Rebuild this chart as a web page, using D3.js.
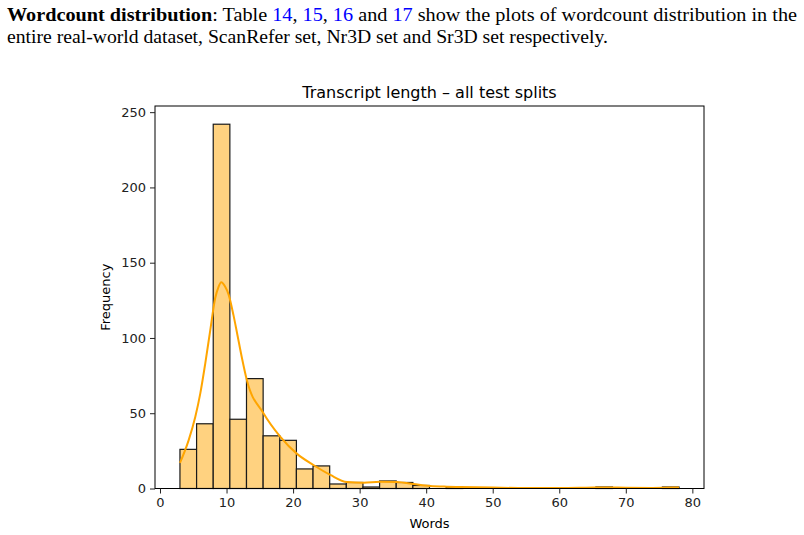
<!DOCTYPE html>
<html>
<head>
<meta charset="utf-8">
<script src="https://cdn.jsdelivr.net/npm/d3@7"></script>
<style>
  body { margin: 0; background: #fff; }
  svg { display: block; }
</style>
</head>
<body>
<script>
// histogram bins (words)
var binStart = 3;
var binWidth = 2.5;
var counts = [26, 43, 242, 46, 73, 35, 32, 13, 15, 3, 4, 1, 5, 4, 2, 0, 1, 0, 0, 0, 0, 0, 0, 0, 0, 1, 0, 0, 0, 1];

// kde line, sampled by eye
var kdeWords  = [3, 4.3, 5.3, 6.05, 6.8, 7.55, 8.3, 8.8, 9.2, 9.8, 10.3, 11.05, 11.55, 12.3, 13.05, 15.55, 18.06, 20.6, 23.06, 25.6, 28.1, 30.6, 33.1, 35.6, 38.1, 40.6, 43.1, 45.1, 50, 55, 60, 64, 67, 70, 74, 77, 78];
var kdeValues = [17, 32, 47.5, 63, 83, 105, 126.5, 134, 137, 134, 129, 115, 104, 87, 72, 50, 34.5, 23, 15.6, 9, 4.3, 3.9, 4.5, 4.3, 3, 1.7, 1.2, 1, 0.6, 0.3, 0.3, 0.5, 0.7, 0.5, 0.4, 0.6, 0.6];

var yTicks = [0, 50, 100, 150, 200, 250];
var xTicks = [0, 10, 20, 30, 40, 50, 60, 70, 80];

var W = 804, H = 535;
var svg = d3.select("body").append("svg")
    .attr("width", W)
    .attr("height", H);

// caption above the figure
var cap = svg.append("g")
    .attr("font-family", "'Liberation Serif', 'Times New Roman', serif")
    .attr("font-size", 19.5)
    .attr("fill", "#000");

var line1 = cap.append("text")
    .attr("x", 7).attr("y", 21)
    .attr("textLength", 790).attr("lengthAdjust", "spacingAndGlyphs");
line1.append("tspan").attr("font-weight", "bold").text("Wordcount distribution");
line1.append("tspan").text(": Table ");
line1.append("tspan").attr("fill", "#0000ff").text("14");
line1.append("tspan").text(", ");
line1.append("tspan").attr("fill", "#0000ff").text("15");
line1.append("tspan").text(", ");
line1.append("tspan").attr("fill", "#0000ff").text("16");
line1.append("tspan").text(" and ");
line1.append("tspan").attr("fill", "#0000ff").text("17");
line1.append("tspan").text(" show the plots of wordcount distribution in the");

cap.append("text")
    .attr("x", 7).attr("y", 43)
    .attr("textLength", 601).attr("lengthAdjust", "spacingAndGlyphs")
    .text("entire real-world dataset, ScanRefer set, Nr3D set and Sr3D set respectively.");

// plot area
var pLeft = 155, pRight = 704, pTop = 106, pBottom = 488.5;
var x = d3.scaleLinear().domain([-0.75, 81.75]).range([pLeft, pRight]);
var y = d3.scaleLinear().domain([0, 254.1]).range([pBottom, pTop]);

var plot = svg.append("g");

plot.selectAll("rect.bar")
    .data(counts)
    .enter()
    .append("rect")
    .attr("class", "bar")
    .attr("x", function (d, i) { return x(binStart + i * binWidth); })
    .attr("width", function (d, i) { return x(binStart + (i + 1) * binWidth) - x(binStart + i * binWidth); })
    .attr("y", function (d) { return y(d); })
    .attr("height", function (d) { return y(0) - y(d); })
    .attr("fill", "#ffd280")
    .attr("stroke", "#1a1a1a")
    .attr("stroke-width", 1.2);

var kde = d3.line()
    .x(function (d, i) { return x(kdeWords[i]); })
    .y(function (d) { return y(d); })
    .curve(d3.curveMonotoneX);

plot.append("path")
    .datum(kdeValues)
    .attr("d", kde)
    .attr("fill", "none")
    .attr("stroke", "#ffa500")
    .attr("stroke-width", 2);

// frame
svg.append("rect")
    .attr("x", pLeft).attr("y", pTop)
    .attr("width", pRight - pLeft).attr("height", pBottom - pTop)
    .attr("fill", "none")
    .attr("stroke", "#000")
    .attr("stroke-width", 1);

var font = "'DejaVu Sans', sans-serif";

var xAxis = svg.append("g")
    .attr("transform", "translate(0," + pBottom + ")")
    .call(d3.axisBottom(x).tickValues(xTicks).tickSize(5).tickPadding(4).tickFormat(d3.format("d")));
var yAxis = svg.append("g")
    .attr("transform", "translate(" + pLeft + ",0)")
    .call(d3.axisLeft(y).tickValues(yTicks).tickSize(5).tickPadding(4).tickFormat(d3.format("d")));

[xAxis, yAxis].forEach(function (a) {
    a.select(".domain").remove();
    a.selectAll("text").attr("font-family", font).attr("font-size", 13).attr("fill", "#222");
    a.selectAll("line").attr("stroke", "#222");
});

svg.append("text")
    .attr("x", (pLeft + pRight) / 2).attr("y", 98)
    .attr("text-anchor", "middle")
    .attr("font-family", font).attr("font-size", 16)
    .text("Transcript length \u2013 all test splits");

svg.append("text")
    .attr("x", (pLeft + pRight) / 2).attr("y", 528)
    .attr("text-anchor", "middle")
    .attr("font-family", font).attr("font-size", 13)
    .text("Words");

svg.append("text")
    .attr("transform", "translate(110," + (pTop + pBottom) / 2 + ") rotate(-90)")
    .attr("text-anchor", "middle")
    .attr("font-family", font).attr("font-size", 13)
    .text("Frequency");
</script>
</body>
</html>
